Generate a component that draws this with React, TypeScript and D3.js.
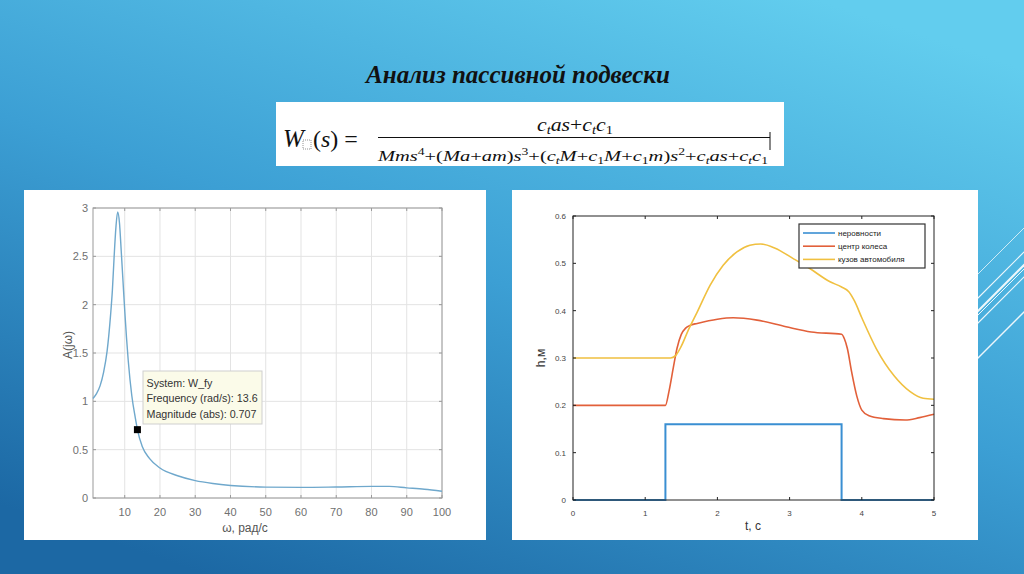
import React from "react";
import * as d3 from "d3";

// ---- Left chart: amplitude-frequency response ----
const freqOmega = [1, 2, 3, 4, 5, 6, 6.5, 7, 7.5, 8, 8.5, 9, 9.5, 10, 10.5, 11, 12, 13, 13.6, 15, 17, 20, 25, 30, 35, 40, 50, 60, 70, 80, 85, 90, 95, 100];
const freqAmp = [1.03, 1.08, 1.16, 1.3, 1.52, 1.9, 2.15, 2.5, 2.8, 2.96, 2.85, 2.56, 2.25, 1.94, 1.66, 1.42, 1.06, 0.83, 0.707, 0.53, 0.41, 0.31, 0.23, 0.18, 0.15, 0.13, 0.113, 0.11, 0.114, 0.12, 0.12, 0.105, 0.09, 0.07];
const freqXTicks = [10, 20, 30, 40, 50, 60, 70, 80, 90, 100];
const freqYTicks = [0, 0.5, 1, 1.5, 2, 2.5, 3];
const markerPoint = [13.6, 0.707];
const tooltipLines = ["System: W_fy", "Frequency (rad/s): 13.6", "Magnitude (abs): 0.707"];

// ---- Right chart: time response ----
const bumpT = [0, 1.28, 1.28, 3.72, 3.72, 5];
const bumpH = [0, 0, 0.16, 0.16, 0, 0];
const wheelT = [0, 1.28, 1.33, 1.39, 1.44, 1.5, 1.56, 1.62, 1.72, 2.0, 2.22, 2.55, 2.95, 3.3, 3.72, 3.76, 3.8, 3.86, 3.93, 4.0, 4.1, 4.3, 4.6, 4.8, 5.0];
const wheelH = [0.2, 0.2, 0.23, 0.28, 0.32, 0.35, 0.363, 0.369, 0.373, 0.382, 0.385, 0.38, 0.366, 0.355, 0.35, 0.34, 0.32, 0.27, 0.22, 0.19, 0.178, 0.172, 0.169, 0.174, 0.181];
const bodyT = [0, 1.35, 1.42, 1.5, 1.6, 1.72, 1.9, 2.08, 2.27, 2.45, 2.6, 2.8, 3.05, 3.28, 3.56, 3.72, 3.82, 3.9, 4.0, 4.2, 4.45, 4.67, 4.85, 5.0];
const bodyH = [0.3, 0.3, 0.305, 0.325, 0.36, 0.397, 0.454, 0.496, 0.524, 0.538, 0.541, 0.532, 0.51, 0.489, 0.461, 0.45, 0.44, 0.42, 0.385, 0.32, 0.262, 0.229, 0.215, 0.213];
const timeXTicks = [0, 1, 2, 3, 4, 5];
const timeYTicks = [0, 0.1, 0.2, 0.3, 0.4, 0.5, 0.6];
const legendNames = ["неровности", "центр колеса", "кузов автомобиля"];
const seriesColors = ["#3a8fd2", "#e2603a", "#f0c040"];

const SANS = "'Liberation Sans', Arial, sans-serif";
const SERIF = "'Liberation Serif', 'DejaVu Serif', serif";

function FreqChart() {
  const L = 93, R = 442, T = 208, B = 498;
  const x = d3.scaleLinear().domain([1, 100]).range([L, R]);
  const y = d3.scaleLinear().domain([0, 3]).range([B, T]);
  const pts: [number, number][] = freqOmega.map((w, i) => [w, freqAmp[i]]);
  const line = d3.line<[number, number]>().x(d => x(d[0])).y(d => y(d[1])).curve(d3.curveMonotoneX);
  return (
    <g>
      <rect x={24} y={190} width={462} height={350} fill="#ffffff" />
      {freqXTicks.map(t => (
        <line key={"gx" + t} x1={x(t)} x2={x(t)} y1={T} y2={B} stroke="#e3e3e3" strokeWidth={1} />
      ))}
      {freqYTicks.map(t => (
        <line key={"gy" + t} x1={L} x2={R} y1={y(t)} y2={y(t)} stroke="#e3e3e3" strokeWidth={1} />
      ))}
      <rect x={L} y={T} width={R - L} height={B - T} fill="none" stroke="#9a9a9a" strokeWidth={1} />
      {freqXTicks.map(t => (
        <g key={"tx" + t}>
          <line x1={x(t)} x2={x(t)} y1={B} y2={B - 3} stroke="#9a9a9a" />
          <line x1={x(t)} x2={x(t)} y1={T} y2={T + 3} stroke="#9a9a9a" />
          <text x={x(t)} y={516} textAnchor="middle" fontFamily={SANS} fontSize={11} fill="#707070">{t}</text>
        </g>
      ))}
      {freqYTicks.map(t => (
        <g key={"ty" + t}>
          <line x1={L} x2={L + 3} y1={y(t)} y2={y(t)} stroke="#9a9a9a" />
          <line x1={R} x2={R - 3} y1={y(t)} y2={y(t)} stroke="#9a9a9a" />
          <text x={88} y={y(t) + 4} textAnchor="end" fontFamily={SANS} fontSize={11} fill="#707070">{t}</text>
        </g>
      ))}
      <path d={line(pts) || ""} fill="none" stroke="#6fa8cc" strokeWidth={1.4} />
      <rect x={x(markerPoint[0]) - 3.5} y={y(markerPoint[1]) - 3.5} width={7} height={7} fill="#000" />
      <rect x={143} y={371} width={119} height={53} fill="#fbfbe9" stroke="#cfcfcf" strokeWidth={1} />
      {tooltipLines.map((s, i) => (
        <text key={s} x={146.5} y={387 + i * 15.3} fontFamily={SANS} fontSize={10.7} fill="#333">{s}</text>
      ))}
      <text transform="translate(72,345) rotate(-90)" textAnchor="middle" fontFamily={SANS} fontSize={12} fill="#555">A(jω)</text>
      <text x={245} y={532} textAnchor="middle" fontFamily={SANS} fontSize={12} fill="#555">ω, рад/с</text>
    </g>
  );
}

function TimeChart() {
  const L = 573, R = 934, T = 216, B = 500;
  const x = d3.scaleLinear().domain([0, 5]).range([L, R]);
  const y = d3.scaleLinear().domain([0, 0.6]).range([B, T]);
  const lin = d3.line<[number, number]>().x(d => x(d[0])).y(d => y(d[1]));
  const smooth = d3.line<[number, number]>().x(d => x(d[0])).y(d => y(d[1])).curve(d3.curveMonotoneX);
  const bump: [number, number][] = bumpT.map((t, i) => [t, bumpH[i]]);
  const wheel: [number, number][] = wheelT.map((t, i) => [t, wheelH[i]]);
  const body: [number, number][] = bodyT.map((t, i) => [t, bodyH[i]]);
  const lgX = 799, lgY = 224;
  return (
    <g>
      <rect x={512} y={190} width={466} height={350} fill="#ffffff" />
      <path d={lin(bump) || ""} fill="none" stroke={seriesColors[0]} strokeWidth={2} />
      <path d={smooth(wheel) || ""} fill="none" stroke={seriesColors[1]} strokeWidth={1.6} />
      <path d={smooth(body) || ""} fill="none" stroke={seriesColors[2]} strokeWidth={1.6} />
      <rect x={L} y={T} width={R - L} height={B - T} fill="none" stroke="#222" strokeWidth={1} />
      {timeXTicks.map(t => (
        <g key={"tx" + t}>
          <line x1={x(t)} x2={x(t)} y1={B} y2={B - 3} stroke="#222" />
          <line x1={x(t)} x2={x(t)} y1={T} y2={T + 3} stroke="#222" />
          <text x={x(t)} y={516} textAnchor="middle" fontFamily={SANS} fontSize={8} fill="#444">{t}</text>
        </g>
      ))}
      {timeYTicks.map(t => (
        <g key={"ty" + t}>
          <line x1={L} x2={L + 3} y1={y(t)} y2={y(t)} stroke="#222" />
          <line x1={R} x2={R - 3} y1={y(t)} y2={y(t)} stroke="#222" />
          <text x={566} y={y(t) + 3} textAnchor="end" fontFamily={SANS} fontSize={8} fill="#444">{t}</text>
        </g>
      ))}
      <text transform="translate(545,358) rotate(-90)" textAnchor="middle" fontFamily={SANS} fontSize={12} fill="#333">h,м</text>
      <text x={753} y={530} textAnchor="middle" fontFamily={SANS} fontSize={12} fill="#333">t, c</text>
      <rect x={lgX} y={lgY} width={126} height={44} fill="#ffffff" stroke="#333" strokeWidth={1.2} />
      {legendNames.map((n, i) => (
        <g key={n}>
          <line x1={lgX + 4} x2={lgX + 36} y1={lgY + 9 + i * 13.2} y2={lgY + 9 + i * 13.2} stroke={seriesColors[i]} strokeWidth={1.6} />
          <text x={lgX + 39} y={lgY + 12 + i * 13.2} fontFamily={SANS} fontSize={8} fill="#222">{n}</text>
        </g>
      ))}
    </g>
  );
}

function Formula() {
  return (
    <g fontFamily={SERIF} fontStyle="italic" fill="#111">
      <rect x={276} y={102} width={508} height={64} fill="#ffffff" />
      <text x={283} y={147} fontSize={25}>W</text>
      <rect x={303} y={140} width={8} height={9} fill="none" stroke="#777" strokeWidth={0.8} strokeDasharray="1,1" />
      <text x={313} y={147} fontSize={24}>
        <tspan fontStyle="normal">(</tspan>s<tspan fontStyle="normal">) =</tspan>
      </text>
      <text x={575} y={131} fontSize={18} textAnchor="middle" textLength={76} lengthAdjust="spacingAndGlyphs">
        c<tspan fontSize={12} dy={3}>t</tspan><tspan dy={-3}>as</tspan><tspan fontStyle="normal">+</tspan>c<tspan fontSize={12} dy={3}>t</tspan><tspan dy={-3}>c</tspan><tspan fontSize={12} fontStyle="normal" dy={3}>1</tspan>
      </text>
      <line x1={378} x2={770} y1={137.5} y2={137.5} stroke="#111" strokeWidth={1} />
      <line x1={770} x2={770} y1={132} y2={150} stroke="#111" strokeWidth={1} />
      <text x={378} y={161} fontSize={15} textLength={390} lengthAdjust="spacingAndGlyphs">
        Mms<tspan fontSize={10} fontStyle="normal" dy={-6}>4</tspan><tspan fontStyle="normal" dy={6}>+(</tspan>Ma<tspan fontStyle="normal">+</tspan>am<tspan fontStyle="normal">)</tspan>s<tspan fontSize={10} fontStyle="normal" dy={-6}>3</tspan><tspan fontStyle="normal" dy={6}>+(</tspan>c<tspan fontSize={10} dy={3}>t</tspan><tspan dy={-3}>M</tspan><tspan fontStyle="normal">+</tspan>c<tspan fontSize={10} fontStyle="normal" dy={3}>1</tspan><tspan dy={-3}>M</tspan><tspan fontStyle="normal">+</tspan>c<tspan fontSize={10} fontStyle="normal" dy={3}>1</tspan><tspan dy={-3}>m</tspan><tspan fontStyle="normal">)</tspan>s<tspan fontSize={10} fontStyle="normal" dy={-6}>2</tspan><tspan fontStyle="normal" dy={6}>+</tspan>c<tspan fontSize={10} dy={3}>t</tspan><tspan dy={-3}>as</tspan><tspan fontStyle="normal">+</tspan>c<tspan fontSize={10} dy={3}>t</tspan><tspan dy={-3}>c</tspan><tspan fontSize={10} fontStyle="normal" dy={3}>1</tspan>
      </text>
    </g>
  );
}

export default function App() {
  const deco = [
    [962, 314, 1032, 244, 1.2],
    [962, 327, 1032, 257, 2],
    [962, 331, 1032, 261, 1],
    [962, 339, 1032, 269, 1.2],
    [962, 374, 1032, 304, 1.5],
    [962, 290, 1032, 220, 0.8],
  ];
  return (
    <svg width={1024} height={574} style={{ position: "fixed", left: 0, top: 0 }}>
      <defs>
        <linearGradient id="bg" x1="0.8" y1="0" x2="0.2" y2="1">
          <stop offset="0" stopColor="#62cdee" />
          <stop offset="0.5" stopColor="#3c9fd4" />
          <stop offset="1" stopColor="#1c68a4" />
        </linearGradient>
      </defs>
      <rect x={0} y={0} width={1024} height={574} fill="url(#bg)" />
      {deco.map((d, i) => (
        <line key={i} x1={d[0]} y1={d[1]} x2={d[2]} y2={d[3]} stroke="#ffffff" strokeWidth={d[4]} opacity={0.9} />
      ))}
      <text x={518} y={83} textAnchor="middle" fontFamily={SERIF} fontStyle="italic" fontWeight="bold" fontSize={25} fill="#111">Анализ пассивной подвески</text>
      <Formula />
      <FreqChart />
      <TimeChart />
    </svg>
  );
}
